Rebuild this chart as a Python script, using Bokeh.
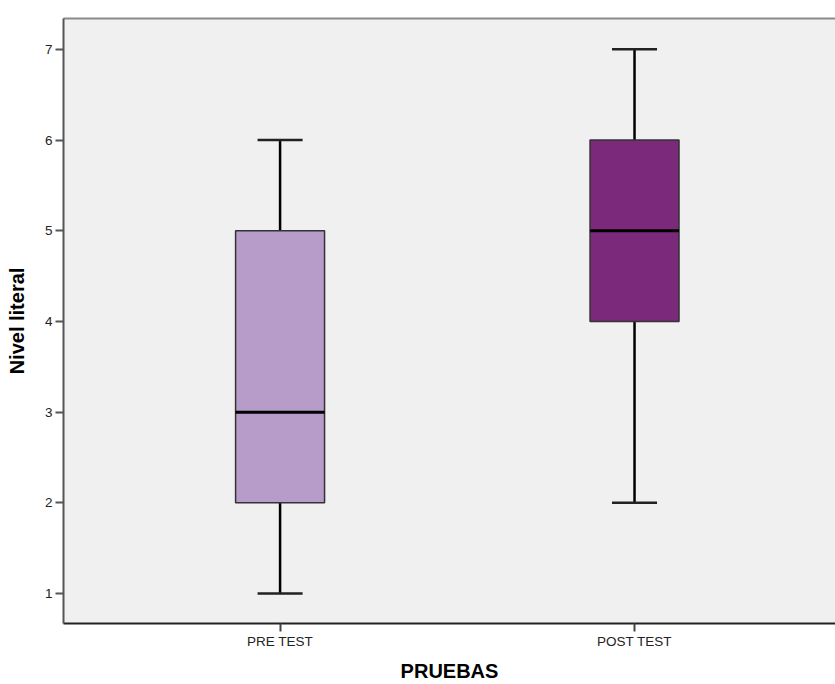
from bokeh.plotting import figure
from bokeh.models import ColumnDataSource, Range1d, FixedTicker, LinearAxis
from bokeh.embed import file_html
from bokeh.resources import INLINE

# Data
categories = ["PRE TEST", "POST TEST"]
positions = [1, 2]
mins = [1, 2]
q1 = [2, 4]
medians = [3, 5]
q3 = [5, 6]
maxs = [6, 7]
colors = ["#b79bc9", "#7b2a7b"]
y_ticks = [1, 2, 3, 4, 5, 6, 7]

BOX_W = 0.251
CAP_W = 0.127

src = ColumnDataSource(dict(
    x=positions, lo=mins, q1=q1, med=medians, q3=q3, hi=maxs, color=colors,
    cl=[p - CAP_W / 2 for p in positions], cr=[p + CAP_W / 2 for p in positions],
    bl=[p - BOX_W / 2 for p in positions], br=[p + BOX_W / 2 for p in positions],
))

p = figure(width=835, height=684, output_backend="svg", toolbar_location=None,
           x_range=Range1d(0.389, 2.567), y_range=Range1d(0.67, 7.34),
           min_border_left=63, min_border_right=0, min_border_top=18, min_border_bottom=0)

p.background_fill_color = "#f0f0f0"
p.border_fill_color = "white"
p.outline_line_color = None
p.xgrid.visible = False
p.ygrid.visible = False

xa = p.below[0]
ya = p.left[0]

# whiskers
p.segment(x0="x", y0="lo", x1="x", y1="q1", source=src, line_color="black", line_width=2.5)
p.segment(x0="x", y0="q3", x1="x", y1="hi", source=src, line_color="black", line_width=2.5)
p.segment(x0="cl", y0="lo", x1="cr", y1="lo", source=src, line_color="#222222", line_width=2.5)
p.segment(x0="cl", y0="hi", x1="cr", y1="hi", source=src, line_color="#222222", line_width=2.5)
# boxes
p.vbar(x="x", width=BOX_W, bottom="q1", top="q3", source=src, fill_color="color",
       line_color="#333333", line_width=1.5)
# medians
p.segment(x0="bl", y0="med", x1="br", y1="med", source=src, line_color="black", line_width=3)

xa.ticker = FixedTicker(ticks=positions)
xa.major_label_overrides = {pos: c for pos, c in zip(positions, categories)}
ya.ticker = FixedTicker(ticks=y_ticks)

for ax in (xa, ya):
    ax.minor_tick_line_color = None
    ax.major_tick_in = 0
    ax.major_tick_out = 8
    ax.major_tick_line_width = 2
    ax.axis_line_width = 2
    ax.major_label_text_font = "Liberation Sans"
    ax.major_label_text_font_size = "13.5px"
    ax.major_label_text_color = "#222222"
    ax.axis_label_text_font = "Liberation Sans"
    ax.axis_label_text_font_style = "bold"
    ax.axis_label_text_font_size = "20px"
    ax.axis_label_text_color = "black"

xa.axis_line_color = "#222222"
xa.major_tick_line_color = "#444444"
ya.axis_line_color = "#555555"
ya.major_tick_line_color = "#555555"
xa.major_label_standoff = 2
ya.major_label_standoff = 3
xa.axis_label = "PRUEBAS"
ya.axis_label = "Nivel literal"
xa.axis_label_standoff = 8
ya.axis_label_standoff = 14

# top border as an empty axis (no ticks, no labels)
top = LinearAxis(ticker=FixedTicker(ticks=[]), axis_line_color="#8a8a8a", axis_line_width=2,
                 major_tick_out=0, major_tick_in=0, minor_tick_out=0, minor_tick_in=0,
                 major_label_standoff=0)
p.add_layout(top, "above")

open("out.html", "w").write(file_html(p, INLINE))
